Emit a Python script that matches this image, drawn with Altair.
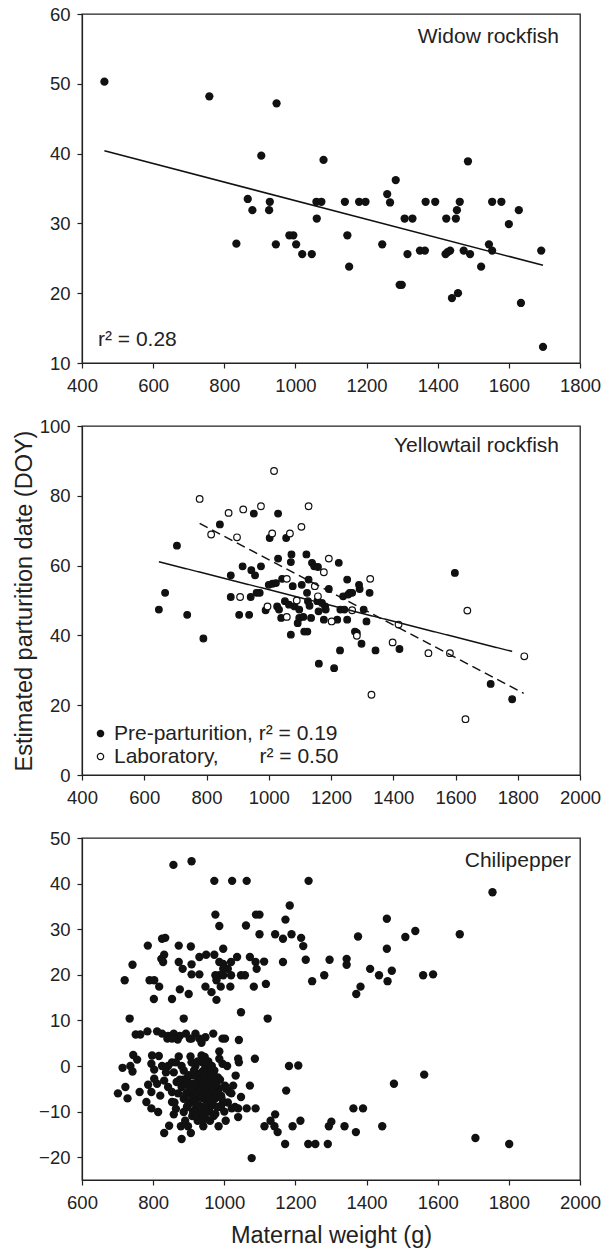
import altair as alt
import pandas as pd

# ---------------- Widow rockfish ----------------
widow_weight = [463, 758, 947, 904, 1079, 1485, 1282, 1258, 866, 928, 879, 926, 1059, 1073,
                1139, 1179, 1197, 1266, 1366, 1393, 1462, 1553, 1579, 1628, 1454, 1060, 1307,
                1329, 1424, 1451, 1600, 983, 994, 1146, 834, 945, 1002, 1244, 1544, 1350, 1364,
                1435, 1473, 1553, 1691, 1019, 1046, 1315, 1422, 1491, 1428, 1151, 1522, 1293,
                1299, 1457, 1440, 1634, 1696]
widow_doy = [50.3, 48.2, 47.2, 39.7, 39.1, 38.9, 36.2, 34.2, 33.5, 33.1, 31.9, 31.9, 33.1, 33.1,
             33.1, 33.1, 33.1, 33.0, 33.1, 33.1, 33.1, 33.1, 33.1, 31.9, 31.9, 30.7, 30.7,
             30.7, 30.7, 30.7, 29.9, 28.3, 28.3, 28.3, 27.1, 27.0, 27.0, 27.0, 27.0, 26.1, 26.1,
             26.1, 26.1, 26.1, 26.1, 25.6, 25.6, 25.6, 25.6, 25.6, 25.9, 23.8, 23.8, 21.2,
             21.2, 20.0, 19.3, 18.6, 12.3]
widow_fit_weight = [463, 1696]
widow_fit_doy = [40.4, 24.0]

# ---------------- Yellowtail rockfish ----------------
yt_pre_weight = [647, 667, 705, 738, 790, 843, 878, 878, 905, 916, 937, 944, 952, 956, 942, 961,
                 971, 975, 990, 1000, 1003, 1012, 1023, 1030, 1030, 1027, 1033, 1040, 1043, 1052,
                 1056, 1065, 1071, 1073, 1071, 1077, 1083, 1093, 1098, 1098, 1106, 1111, 1114,
                 1121, 1123, 1124, 1126, 1128, 1131, 1136, 1139, 1146, 1156, 1158, 1160, 1161,
                 1171, 1177, 1181, 1183, 1193, 1210, 1220, 1225, 1229, 1230, 1239, 1243, 1252,
                 1252, 1255, 1260, 1268, 1277, 1283, 1290, 1292, 1298, 1305, 1314, 1324, 1343,
                 1420, 1598, 1713, 1782]
yt_pre_doy = [47.4, 52.2, 65.7, 45.9, 39.1, 71.8, 57.2, 51.0, 45.9, 59.8, 45.9, 58.7, 74.9, 57.2,
              51.0, 52.2, 52.2, 59.8, 47.2, 54.5, 67.9, 54.8, 55.0, 74.9, 62.0, 48.3, 47.4, 45.0,
              56.2, 49.8, 67.9, 48.8, 40.2, 63.2, 61.0, 54.1, 48.3, 43.5, 47.4, 45.0, 54.5, 45.3,
              41.1, 63.2, 52.2, 41.1, 49.8, 56.0, 48.5, 45.0, 60.8, 59.8, 49.8, 59.6, 46.9, 31.9,
              49.3, 44.5, 48.3, 47.4, 53.3, 30.6, 44.5, 60.8, 35.7, 47.4, 51.2, 47.4, 44.5, 56.0,
              51.7, 52.2, 52.2, 41.1, 40.7, 54.5, 53.3, 37.6, 47.4, 44.0, 52.2, 35.7, 36.1, 57.9,
              26.1, 21.7]
yt_lab_weight = [778, 815, 871, 898, 908, 918, 975, 996, 1011, 1017, 1058, 1058, 1068, 1090,
                 1105, 1128, 1148, 1158, 1177, 1193, 1202, 1268, 1283, 1326, 1330, 1398, 1417,
                 1513, 1582, 1632, 1638, 1821]
yt_lab_doy = [79.1, 68.9, 75.1, 68.1, 51.0, 76.1, 77.0, 48.3, 69.2, 87.1, 56.2, 45.3, 69.2, 50.0,
              71.1, 77.0, 54.1, 51.2, 58.1, 62.0, 44.0, 47.2, 39.9, 56.2, 23.0, 38.0, 43.1, 34.9,
              34.9, 16.0, 47.1, 34.0]
yt_pre_fit_weight = [647, 1782]
yt_pre_fit_doy = [61.1, 35.4]
yt_lab_fit_weight = [778, 1819]
yt_lab_fit_doy = [72.1, 23.4]
yt_series = ["Pre-parturition, r\u00b2 = 0.19",
             "Laboratory," + "\u00a0" * 7 + "r\u00b2 = 0.50"]
yt_fit_names = ["Pre-parturition fit", "Laboratory fit"]

# ---------------- Chilipepper ----------------
chili_weight = [
    857, 908, 972, 1022, 1063, 1237, 1754, 1184, 975, 1089, 1099, 1172, 1457, 986, 1061, 1099,
    1143, 1165, 1189, 1216, 1222, 1376, 1509, 1537, 1662, 1457, 825, 834, 785, 872, 906, 742,
    720, 823, 831, 828, 872, 883, 908, 908, 930, 930, 949, 972, 997, 986, 997, 1010, 1019, 1036,
    1047, 1058, 1072, 1088, 1091, 1112, 1165, 1229, 1296, 1344, 1344, 1410, 1435, 1471, 1559,
    1587, 1459, 1281, 1247, 1383, 1371, 1117, 1083, 1017, 990, 947, 964, 978, 900, 875, 853,
    817, 803, 790, 802, 1047, 1122, 886, 734, 986, 997, 978, 1019, 975, 997,
    751, 764, 784, 811, 825, 842, 858, 875, 840, 869, 892, 903, 919, 930, 947, 936, 969, 995,
    1002, 1041, 908, 853,
    714, 744, 755, 736, 742, 797, 816, 795, 803, 825, 842, 853, 872, 864, 880, 905, 908, 919,
    936, 939, 947, 958, 986, 986, 995, 1008, 1039, 1041, 1032, 1086, 1182, 1208, 1562, 1477,
    701, 722, 728, 762, 786, 795, 811, 820, 803, 831, 842, 853, 866, 880, 886, 897, 906, 917,
    925, 930, 941, 950, 958, 966, 973, 980, 991, 1002, 1014, 1025, 1047, 1072, 1174, 836, 858,
    886, 914, 936, 953, 969,
    781, 795, 814, 853, 864, 858, 886, 897, 919, 930, 941, 958, 975, 991, 997, 1021, 1039, 1063,
    1088, 1143, 1363, 1390,
    845, 831, 878, 880, 898, 906, 941, 984, 1004, 1039, 1077, 1113, 1130, 1141, 1150, 1171,
    1192, 1214, 1236, 1256, 1291, 1294, 1301, 1338, 1370, 1444, 1706, 1801,
    885, 893, 905, 915, 925, 935, 945, 950, 955, 960, 965, 975, 985, 990, 945, 960, 930, 910,
    890, 940, 952, 968, 920, 900, 982, 948, 938, 958, 912, 972,
    900, 905, 910, 915, 920, 925, 928, 932, 935, 938, 942, 944, 948, 950, 953, 956, 958, 962,
    965, 968, 970, 975, 978, 980, 983, 988, 992, 940, 948, 935, 925, 918, 912, 895, 888, 870,
    875, 860, 895, 1005, 1010, 1000, 1020, 1030, 955, 945, 965, 925]
chili_doy = [
    44.1, 44.9, 40.6, 40.6, 40.6, 40.6, 38.1, 35.2, 33.2, 33.2, 33.2, 32.1, 32.3, 30.7, 30.8, 28.9,
    28.9, 27.9, 28.9, 28.1, 26.3, 28.4, 28.3, 29.6, 28.9, 25.7, 27.9, 28.1, 26.4, 26.4, 26.2, 22.2,
    18.8, 23.5, 24.4, 22.8, 22.8, 21.3, 22.3, 20.1, 23.9, 20.1, 24.4, 24.4, 25.7, 22.8, 22.4, 21.3,
    22.8, 23.9, 19.9, 19.9, 23.9, 22.8, 21.3, 22.9, 22.8, 23.3, 23.3, 23.5, 22.2, 21.3, 19.9, 20.9,
    19.9, 20.1, 18.6, 19.9, 18.6, 17.4, 15.8, 18.0, 17.4, 17.4, 17.4, 17.4, 16.2, 14.5, 15.8,
    16.8, 14.7, 17.4, 18.8, 18.8, 14.7, 11.8, 10.4, 10.4, 10.4, 19.9, 21.3, 18.8, 19.9, 19.9, 19.9,
    6.9, 6.9, 7.6, 7.6, 7.1, 6.6, 7.1, 6.6, 6.0, 5.8, 7.1, 6.0, 7.1, 6.0, 6.3, 5.1, 7.1, 6.0,
    6.0, 5.7, 6.0, 6.0,
    -0.4, 2.4, 1.4, 0.0, -1.2, 2.3, 2.2, 0.5, -0.8, 0.0, 0.0, 0.8, 2.1, 0.8, 0.0, 2.1, 0.8, 0.0,
    2.3, 0.8, 0.0, 0.0, 3.2, 1.6, 0.5, 0.0, 1.6, 0.8, -2.1, 1.6, 0.0, 0.1, -1.9, -3.9,
    -6.0, -4.6, -7.1, -5.7, -4.1, -5.7, -3.9, -6.5, -2.8, -3.2, -4.6, -5.7, -3.5, -4.6, -7.2,
    -2.5, -3.9, -5.7, -3.5, -6.5, -5.0, -7.2, -5.7, -3.5, -7.2, -5.0, -6.5, -4.3, -5.7, -4.3,
    -6.8, -4.3, -5.4, -1.4, -1.4, -1.0, -2.1, -1.4, -2.5, -1.4,
    -7.9, -9.3, -10.1, -7.9, -9.4, -10.6, -10.1, -8.7, -9.4, -8.7, -10.5, -9.4, -10.5, -8.7,
    -7.9, -9.3, -9.3, -9.3, -9.3, -10.6, -9.3, -9.3,
    -13.1, -14.7, -13.2, -16.0, -13.2, -14.7, -13.2, -13.2, -12.0, -11.2, -20.2, -13.2, -12.0,
    -13.2, -14.5, -17.1, -13.2, -12.0, -17.1, -17.1, -17.1, -13.2, -12.2, -13.2, -14.5, -13.2,
    -15.8, -17.1,
    -3.0, -6.0, -8.0, -1.0, -7.0, -9.0, -4.0, -9.0, -2.0, -8.0, -6.0, -3.0, -5.0, -9.0, -11.0,
    -12.0, -10.5, -11.0, -12.0, -1.5, -6.5, -8.5, -4.5, -5.5, -2.5, -7.5, -3.5, -0.5, -6.5, -1.0,
    -2.0, -5.0, -7.0, -4.0, -2.0, -6.0, -9.0, -3.0, -5.0, -7.0, -1.0, -6.0, -3.0, -5.0, -7.0,
    -4.0, -10.0, -2.0, -8.0, -5.0, -11.0, -7.0, -4.0, -9.0, -6.0, -3.0, -7.0, -12.0, -10.0,
    -11.0, -12.0, -8.0, -10.0, -4.0, -7.0, -6.0, -3.0, -8.0, -9.0, -5.0, -8.0, -10.0, -6.0,
    -9.0, 1.0, 2.0, 0.0, 1.0]

FONT = "Liberation Sans"
INK = "#222222"
DOT = "#111111"
TICK_FS = 18.5
TITLE_FS = 23.5
NOTE_FS = 21


def note(text, x, y, align="right"):
    return alt.Chart(pd.DataFrame({"t": [text]})).mark_text(
        align=align, baseline="middle", font=FONT, fontSize=NOTE_FS, color=INK
    ).encode(text="t:N", x=alt.value(x), y=alt.value(y))


# ---------- Panel 1 ----------
w_df = pd.DataFrame({"weight": widow_weight, "doy": widow_doy})
w_fit = pd.DataFrame({"weight": widow_fit_weight, "doy": widow_fit_doy})
x1 = alt.X("weight:Q", scale=alt.Scale(domain=[400, 1800], nice=False),
           axis=alt.Axis(values=list(range(400, 1801, 200)), format="d", title=None))
y1 = alt.Y("doy:Q", scale=alt.Scale(domain=[10, 60], nice=False),
           axis=alt.Axis(values=list(range(10, 61, 10)), format="d", title=None))
p1_pts = alt.Chart(w_df).mark_circle(size=68, color=DOT, opacity=1).encode(x=x1, y=y1)
p1_line = alt.Chart(w_fit).mark_line(color=DOT, strokeWidth=1.5).encode(x=x1, y=y1)
panel1 = alt.layer(p1_pts, p1_line, note("Widow rockfish", 477, 23),
                   note("r\u00b2 = 0.28", 16, 326, align="left")).properties(width=498, height=349)

# ---------- Panel 2 ----------
yt_df = pd.concat([
    pd.DataFrame({"weight": yt_pre_weight, "doy": yt_pre_doy, "series": yt_series[0]}),
    pd.DataFrame({"weight": yt_lab_weight, "doy": yt_lab_doy, "series": yt_series[1]}),
])
yt_fit = pd.concat([
    pd.DataFrame({"weight": yt_pre_fit_weight, "doy": yt_pre_fit_doy, "fit": yt_fit_names[0]}),
    pd.DataFrame({"weight": yt_lab_fit_weight, "doy": yt_lab_fit_doy, "fit": yt_fit_names[1]}),
])
x2 = alt.X("weight:Q", scale=alt.Scale(domain=[400, 2000], nice=False),
           axis=alt.Axis(values=list(range(400, 2001, 200)), format="d", title=None))
y2 = alt.Y("doy:Q", scale=alt.Scale(domain=[0, 100], nice=False),
           axis=alt.Axis(values=list(range(0, 101, 20)), format="d",
                         title="Estimated parturition date (DOY)", titlePadding=3))
p2_pts = alt.Chart(yt_df).mark_point(size=44, filled=True, stroke=DOT,
                                     strokeWidth=1.2, opacity=1).encode(
    x=x2, y=y2,
    fill=alt.Fill("series:N", scale=alt.Scale(domain=yt_series, range=[DOT, "white"]),
                  legend=alt.Legend(title=None, orient="bottom-left", offset=8, padding=0,
                                    labelFont=FONT, labelFontSize=NOTE_FS, labelColor=INK,
                                    labelLimit=400, symbolType="circle", symbolSize=40,
                                    symbolStrokeColor=DOT, symbolStrokeWidth=1.2,
                                    symbolDash=[1, 0],
                                    labelOffset=3, rowPadding=1)),
)
p2_line = alt.Chart(yt_fit).mark_line(color=DOT, strokeWidth=1.5).encode(
    x=x2, y=y2,
    strokeDash=alt.StrokeDash("fit:N", scale=alt.Scale(domain=yt_fit_names,
                                                       range=[[1, 0], [9, 5]]), legend=None),
)
panel2 = alt.layer(p2_pts, p2_line, note("Yellowtail rockfish", 477, 20)).properties(
    width=498, height=349)

# ---------- Panel 3 ----------
c_df = pd.DataFrame({"weight": chili_weight, "doy": chili_doy})
x3 = alt.X("weight:Q", scale=alt.Scale(domain=[600, 2000], nice=False),
           axis=alt.Axis(values=list(range(600, 2001, 200)), format="d",
                         title="Maternal weight (g)", titlePadding=12))
y3 = alt.Y("doy:Q", scale=alt.Scale(domain=[-25, 50], nice=False),
           axis=alt.Axis(values=list(range(-20, 51, 10)), format="d", title=None))
p3_pts = alt.Chart(c_df).mark_circle(size=70, color=DOT, opacity=1).encode(x=x3, y=y3)
panel3 = alt.layer(p3_pts, note("Chilipepper", 489, 23)).properties(width=498, height=342)

chart = alt.vconcat(panel1, panel2, panel3, spacing=63, bounds="flush").resolve_legend(
    fill="independent", strokeDash="independent"
).properties(
    padding={"left": 11, "top": 4, "right": 5, "bottom": 0}
).configure_view(stroke=INK, strokeWidth=1.3).configure_axis(
    grid=False, labelFont=FONT, labelFontSize=TICK_FS, labelColor=INK,
    titleFont=FONT, titleFontSize=TITLE_FS, titleFontWeight="normal", titleColor=INK,
    domainColor=INK, tickColor=INK, tickSize=5, labelPadding=8, domainWidth=1.2, tickWidth=1.2,
    labelFlush=False, labelOverlap=False
).configure_axisY(labelPadding=7)

chart.save("out.html", embed_options={"renderer": "svg", "actions": False})
